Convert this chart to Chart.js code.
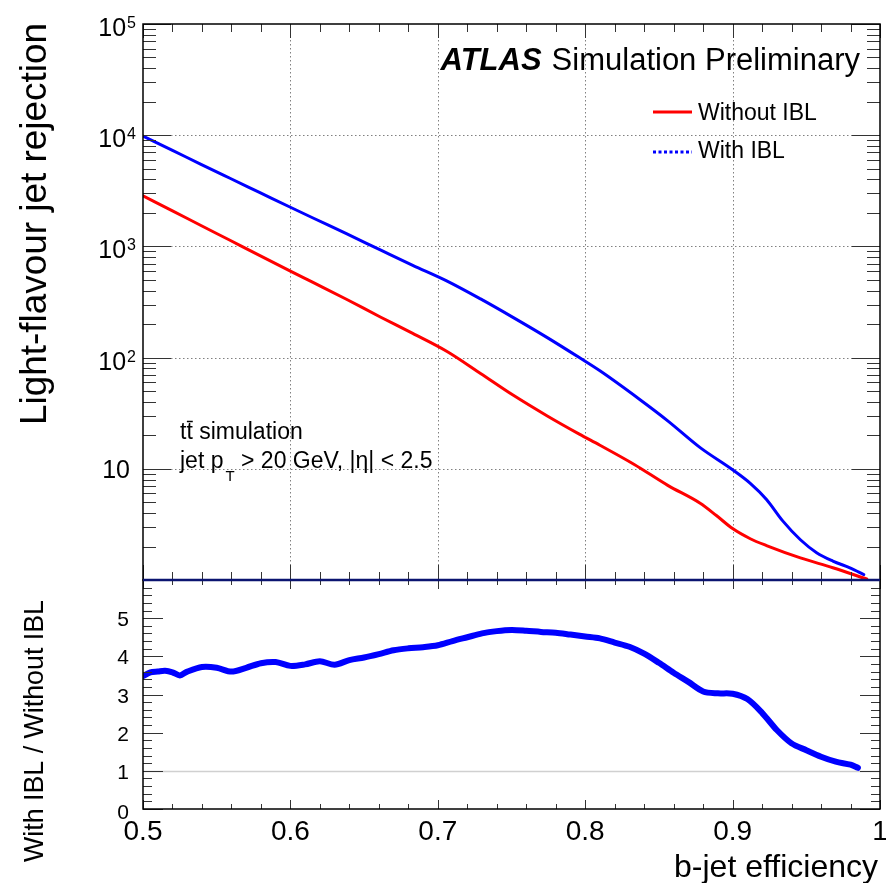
<!DOCTYPE html>
<html>
<head>
<meta charset="utf-8">
<script src="https://cdn.jsdelivr.net/npm/chart.js@4.4.1/dist/chart.umd.min.js"></script>
<style>
    html, body { margin: 0; padding: 0; background: #fff; overflow: hidden; }
    #wrap { position: relative; width: 886px; height: 883px; }
    canvas { position: absolute; left: 0; }
    #topChart { top: 0; }
    #ratioChart { top: 578px; }
</style>
</head>
<body>
<div id="wrap">
    <canvas id="topChart" width="886" height="583"></canvas>
    <canvas id="ratioChart" width="886" height="305"></canvas>
</div>
<script>
const FONT = '"Liberation Sans", Arial, Helvetica, sans-serif';

// Without IBL (red) - b-jet efficiency vs light-flavour rejection
const effWithout = [0.5, 0.52, 0.539, 0.559, 0.579, 0.6, 0.615, 0.638, 0.661, 0.683, 0.706, 0.729, 0.751, 0.774, 0.796, 0.81, 0.833, 0.856, 0.878, 0.889, 0.9, 0.912, 0.923, 0.946, 0.968, 0.991];
const rejWithout = [2850, 2090, 1550, 1135, 830, 600, 477, 335, 232, 165, 114, 72, 46, 30, 20.5, 16.3, 11, 7.1, 4.9, 3.8, 2.9, 2.35, 2.04, 1.58, 1.29, 1.02];

// With IBL (blue)
const effWith = [0.5, 0.52, 0.539, 0.559, 0.579, 0.6, 0.615, 0.638, 0.661, 0.683, 0.706, 0.729, 0.751, 0.774, 0.796, 0.81, 0.837, 0.856, 0.878, 0.9, 0.912, 0.923, 0.934, 0.946, 0.957, 0.968, 0.98, 0.989];
const rejWith = [9800, 7300, 5500, 4100, 3060, 2250, 1810, 1300, 930, 676, 490, 337, 230, 152, 100, 76, 42, 27, 15.5, 9.8, 7.4, 5.3, 3.4, 2.3, 1.76, 1.48, 1.28, 1.12];

// ratio panel
const effRatio = [0.5, 0.505, 0.51, 0.515, 0.52, 0.525, 0.53, 0.54, 0.55, 0.56, 0.57, 0.58, 0.59, 0.6, 0.61, 0.62, 0.63, 0.64, 0.65, 0.66, 0.67, 0.68, 0.69, 0.7, 0.71, 0.72, 0.73, 0.74, 0.75, 0.76, 0.77, 0.78, 0.79, 0.8, 0.81, 0.82, 0.83, 0.84, 0.85, 0.86, 0.87, 0.88, 0.89, 0.9, 0.91, 0.92, 0.93, 0.94, 0.95, 0.96, 0.97, 0.98, 0.985];
const ratioVals = [3.48, 3.58, 3.6, 3.62, 3.58, 3.5, 3.6, 3.72, 3.7, 3.6, 3.7, 3.82, 3.85, 3.75, 3.79, 3.87, 3.78, 3.9, 3.97, 4.06, 4.16, 4.21, 4.24, 4.29, 4.4, 4.5, 4.6, 4.66, 4.69, 4.67, 4.64, 4.62, 4.57, 4.52, 4.47, 4.36, 4.25, 4.07, 3.83, 3.57, 3.33, 3.08, 3.03, 3.02, 2.88, 2.52, 2.07, 1.72, 1.54, 1.37, 1.24, 1.16, 1.08];

// axis labels
const xTickValues = [0.5, 0.6, 0.7, 0.8, 0.9, 1];
const xTickLabels = ['0.5', '0.6', '0.7', '0.8', '0.9', '1'];
const rejDecades = [1, 10, 100, 1000, 10000, 100000];
const ratioTicks = [0, 1, 2, 3, 4, 5];

function seg(ctx, x1, y1, x2, y2) {
    ctx.beginPath();
    ctx.moveTo(x1, y1);
    ctx.lineTo(x2, y2);
    ctx.stroke();
}

// rotated axis title, stretched to the length it has in the picture
function rotatedTitle(ctx, text, x, yEnd, size, length) {
    ctx.save();
    ctx.font = size + 'px ' + FONT;
    const w = ctx.measureText(text).width;
    ctx.translate(x, yEnd);
    ctx.rotate(-Math.PI / 2);
    ctx.scale(length / w, 1);
    ctx.textAlign = 'right';
    ctx.textBaseline = 'alphabetic';
    ctx.fillStyle = '#000';
    ctx.fillText(text, 0, 0);
    ctx.restore();
}

// minor ticks every 0.02 on the efficiency axis, majors every 0.1
function drawXTicks(ctx, x, a, majBot, minBot, majTop, minTop) {
    for (let i = 25; i <= 50; i++) {
        const px = Math.round(x.getPixelForValue(i / 50)) + 0.5;
        const major = i % 5 === 0;
        seg(ctx, px, a.bottom, px, a.bottom - (major ? majBot : minBot));
        seg(ctx, px, a.top, px, a.top + (major ? majTop : minTop));
    }
}

function drawFrame(ctx, a) {
    ctx.strokeStyle = '#000';
    ctx.lineWidth = 1.5;
    ctx.strokeRect(a.left, a.top, a.right - a.left, a.bottom - a.top);
}

const topDecor = {
    id: 'topDecor',
    beforeDatasetsDraw(chart) {
        const { ctx, chartArea: a, scales: { x, y } } = chart;
        ctx.save();
        ctx.strokeStyle = '#808080';
        ctx.lineWidth = 1;
        ctx.setLineDash([1.5, 2.5]);
        xTickValues.forEach(v => {
            if (v <= x.min || v >= x.max) return;
            const px = Math.round(x.getPixelForValue(v)) + 0.5;
            seg(ctx, px, a.top, px, a.bottom);
        });
        rejDecades.forEach(v => {
            if (v <= y.min || v >= y.max) return;
            const py = Math.round(y.getPixelForValue(v)) + 0.5;
            seg(ctx, a.left, py, a.right, py);
        });
        ctx.restore();
    },
    afterDatasetsDraw(chart) {
        const { ctx, chartArea: a, scales: { x, y } } = chart;
        ctx.save();
        ctx.strokeStyle = '#333';
        ctx.lineWidth = 1;
        drawXTicks(ctx, x, a, 15, 8, 14, 8);
        rejDecades.forEach(d => {
            for (let k = 1; k <= 9; k++) {
                const v = k * d;
                if (v > y.max) break;
                const py = Math.round(y.getPixelForValue(v)) + 0.5;
                const len = k === 1 ? 28 : 13;
                seg(ctx, a.left, py, a.left + len, py);
                seg(ctx, a.right, py, a.right - len, py);
            }
        });
        drawFrame(ctx, a);

        // y tick labels 10^n
        ctx.fillStyle = '#000';
        ctx.textAlign = 'right';
        ctx.textBaseline = 'alphabetic';
        rejDecades.forEach(v => {
            if (v === 1) return;
            const py = y.getPixelForValue(v);
            const exp = Math.round(Math.log10(v));
            if (exp === 1) {
                ctx.font = '25px ' + FONT;
                ctx.fillText('10', 130, py + 9);
            } else {
                ctx.font = '16px ' + FONT;
                ctx.fillText(String(exp), 136, py + 4);
                const ew = ctx.measureText(String(exp)).width;
                ctx.font = '25px ' + FONT;
                ctx.fillText('10', 136 - ew - 1, py + 12);
            }
        });

        // ATLAS label
        ctx.font = '31px ' + FONT;
        ctx.fillText('Simulation Preliminary', 860, 70);
        const sw = ctx.measureText('Simulation Preliminary').width;
        ctx.font = 'italic bold 31px ' + FONT;
        ctx.fillText('ATLAS', 860 - sw - 10, 70);

        // legend
        const ds = chart.data.datasets;
        ctx.lineWidth = 3;
        ctx.strokeStyle = ds[0].borderColor;
        seg(ctx, 653, 112, 692, 112);
        ctx.strokeStyle = ds[1].borderColor;
        ctx.setLineDash([3, 2.5]);
        seg(ctx, 653, 152, 692, 152);
        ctx.setLineDash([]);
        ctx.font = '23px ' + FONT;
        ctx.textAlign = 'left';
        ctx.fillText(ds[0].label, 698, 120);
        ctx.fillText(ds[1].label, 698, 158);

        // sample description
        ctx.font = '23px ' + FONT;
        const tw = ctx.measureText('t').width;
        ctx.fillText('tt', 180, 439);
        ctx.lineWidth = 1.5;
        ctx.strokeStyle = '#000';
        seg(ctx, 180 + tw + 0.5, 439 - 17.5, 180 + 2 * tw, 439 - 17.5);
        ctx.fillText(' simulation', 180 + 2 * tw, 439);
        ctx.fillText('jet p', 180, 468);
        let cx = 180 + ctx.measureText('jet p').width + 2;
        ctx.font = '15px ' + FONT;
        ctx.fillText('T', cx, 481);
        cx += ctx.measureText('T').width;
        ctx.font = '23px ' + FONT;
        ctx.fillText(' > 20 GeV, |\u03b7| < 2.5', cx, 468);

        rotatedTitle(ctx, 'Light-flavour jet rejection', 46, 23, 36, 402);
        ctx.restore();
    }
};

const ratioDecor = {
    id: 'ratioDecor',
    beforeDatasetsDraw(chart) {
        const { ctx, chartArea: a, scales: { y } } = chart;
        ctx.save();
        ctx.strokeStyle = '#d0d0d0';
        ctx.lineWidth = 1.5;
        const py = Math.round(y.getPixelForValue(1)) + 0.5;
        seg(ctx, a.left, py, a.right, py);
        ctx.restore();
    },
    afterDatasetsDraw(chart) {
        const { ctx, chartArea: a, scales: { x, y } } = chart;
        ctx.save();
        ctx.strokeStyle = '#333';
        ctx.lineWidth = 1;
        drawXTicks(ctx, x, a, 9, 5, 9, 5);
        for (let i = 0; i <= 30; i++) {
            const py = Math.round(y.getPixelForValue(i / 5)) + 0.5;
            const len = i % 5 === 0 ? 20 : 9;
            seg(ctx, a.left, py, a.left + len, py);
            seg(ctx, a.right, py, a.right - len, py);
        }
        drawFrame(ctx, a);
        // join line between the panels
        ctx.strokeStyle = '#0b1470';
        ctx.lineWidth = 2.5;
        seg(ctx, a.left, a.top, a.right, a.top);

        ctx.fillStyle = '#000';
        ctx.textBaseline = 'alphabetic';
        ctx.textAlign = 'right';
        ctx.font = '21px ' + FONT;
        ratioTicks.forEach(v => {
            const py = y.getPixelForValue(v);
            ctx.fillText(String(v), 129, py + (v === 0 ? 10 : 8));
        });

        ctx.textAlign = 'center';
        ctx.font = '28px ' + FONT;
        xTickValues.forEach((v, i) => {
            ctx.fillText(xTickLabels[i], x.getPixelForValue(v), a.bottom + 31);
        });

        ctx.textAlign = 'right';
        ctx.font = '32px ' + FONT;
        ctx.fillText('b-jet efficiency', 878, a.bottom + 68);

        rotatedTitle(ctx, 'With IBL / Without IBL', 43, a.top + 20, 28, 262);
        ctx.restore();
    }
};

const hiddenAxis = {
    ticks: { display: false },
    grid: { display: false },
    border: { display: false }
};

new Chart(document.getElementById('topChart'), {
    type: 'line',
    data: {
        datasets: [{
            label: 'Without IBL',
            data: effWithout.map((e, i) => ({ x: e, y: rejWithout[i] })),
            borderColor: '#ff0000',
            borderWidth: 3,
            pointRadius: 0,
            cubicInterpolationMode: 'monotone',
            borderCapStyle: 'round',
            borderJoinStyle: 'round'
        }, {
            label: 'With IBL',
            data: effWith.map((e, i) => ({ x: e, y: rejWith[i] })),
            borderColor: '#0000ff',
            borderWidth: 3,
            pointRadius: 0,
            cubicInterpolationMode: 'monotone',
            borderCapStyle: 'round',
            borderJoinStyle: 'round'
        }]
    },
    options: {
        responsive: false,
        animation: false,
        events: [],
        layout: { padding: { left: 0, right: 6, top: 24, bottom: 3 } },
        scales: {
            x: Object.assign({ type: 'linear', min: 0.5, max: 1, afterFit: s => { s.height = 0; } }, hiddenAxis),
            y: Object.assign({ type: 'logarithmic', min: 1, max: 1e5, afterFit: s => { s.width = 143; } }, hiddenAxis)
        },
        plugins: { legend: { display: false }, tooltip: { enabled: false } }
    },
    plugins: [topDecor]
});

new Chart(document.getElementById('ratioChart'), {
    type: 'line',
    data: {
        datasets: [{
            label: 'With IBL / Without IBL',
            data: effRatio.map((e, i) => ({ x: e, y: ratioVals[i] })),
            borderColor: '#0000ff',
            borderWidth: 6,
            pointRadius: 0,
            tension: 0.3,
            borderCapStyle: 'round',
            borderJoinStyle: 'round'
        }]
    },
    options: {
        responsive: false,
        animation: false,
        events: [],
        layout: { padding: { left: 0, right: 6, top: 2, bottom: 74 } },
        scales: {
            x: Object.assign({ type: 'linear', min: 0.5, max: 1, afterFit: s => { s.height = 0; } }, hiddenAxis),
            y: Object.assign({ type: 'linear', min: 0, max: 6, afterFit: s => { s.width = 143; } }, hiddenAxis)
        },
        plugins: { legend: { display: false }, tooltip: { enabled: false } }
    },
    plugins: [ratioDecor]
});
</script>
</body>
</html>
